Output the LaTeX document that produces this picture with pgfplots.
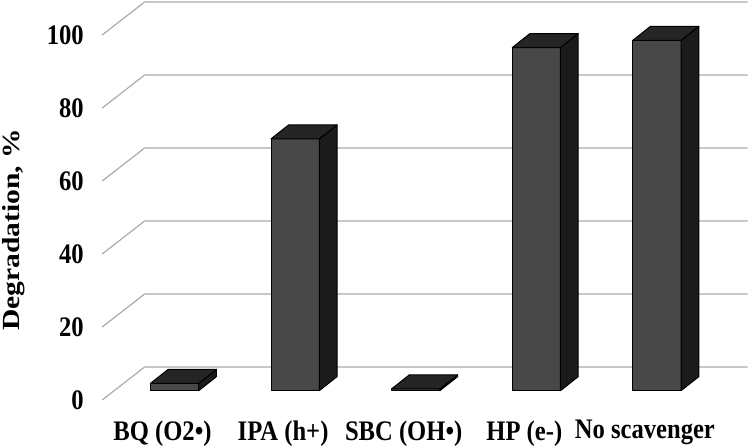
\documentclass[border=0pt]{standalone}
\usepackage{pgfplots}
\usepackage{pgfplotstable}
\pgfplotsset{compat=1.18}
\usepackage{fontspec}
\setmainfont{Liberation Serif}
\usepackage{graphicx}
\definecolor{gridc}{HTML}{ABABAB}
\definecolor{frontc}{HTML}{484848}
\definecolor{sidec}{HTML}{1B1B1B}
\definecolor{topc}{HTML}{252525}
\newcommand{\vs}[1]{\scalebox{1}[1.15]{#1}}
\pgfplotstableread{
idx v
0 2
1 69
2 0.5
3 94
4 96
}\datatable

\begin{document}
\begin{tikzpicture}
\useasboundingbox (0,0) rectangle (376pt,224pt);
\begin{axis}[
 at={(51.1pt,24pt)}, anchor=south west,
 x=60.3pt, y=1.825pt,
 xmin=-0.5, xmax=4.86, ymin=0, ymax=109.04,
 axis line style={draw=none}, major tick length=0pt, tick style={draw=none},
 clip=false,
 xtick={0,1,2,3,4},
 xticklabels={\vs{BQ (O2•)}, \vs{IPA (h+)}, \vs{SBC (OH•)}, \vs{HP (e-)}, \vs{No scavenger}},
 ytick={0,20,40,60,80,100},
 yticklabels={\vs{0},\vs{20},\vs{40},\vs{60},\vs{80},\vs{100}},
 ticklabel style={font=\fontsize{12.3pt}{14pt}\selectfont\bfseries, inner sep=0pt},
 xticklabel style={anchor=north, yshift=-10pt},
 yticklabel style={anchor=east, xshift=-9pt},
 ylabel={\scalebox{1.2}[1]{Degradation, \%}},
 every axis y label/.style={at={(axis cs:-1.231,46.6)}, rotate=90, anchor=center, font=\fontsize{12.3pt}{14pt}\selectfont\bfseries},
]
% gridlines: left wall diagonal + back wall line
\addplot[gridc, line width=0.6pt, mark=none, forget plot] coordinates {(-0.5,0) (-0.148,9.04) (4.852,9.04)};
\addplot[gridc, line width=0.6pt, mark=none, forget plot] coordinates {(-0.5,20) (-0.148,29.04) (4.852,29.04)};
\addplot[gridc, line width=0.6pt, mark=none, forget plot] coordinates {(-0.5,40) (-0.148,49.04) (4.852,49.04)};
\addplot[gridc, line width=0.6pt, mark=none, forget plot] coordinates {(-0.5,60) (-0.148,69.04) (4.852,69.04)};
\addplot[gridc, line width=0.6pt, mark=none, forget plot] coordinates {(-0.5,80) (-0.148,89.04) (4.852,89.04)};
\addplot[gridc, line width=0.6pt, mark=none, forget plot] coordinates {(-0.5,100) (-0.148,109.04) (4.852,109.04)};
% 3D bars
\pgfplotsinvokeforeach{0,...,4}{
  \pgfplotstablegetelem{#1}{v}\of\datatable
  \pgfmathsetmacro\xl{#1-0.1}
  \pgfmathsetmacro\xr{#1+0.3}
  \pgfmathsetmacro\xlb{#1-0.1+0.147}
  \pgfmathsetmacro\xrb{#1+0.3+0.147}
  \pgfmathsetmacro\yt{2.55+\pgfplotsretval}
  \pgfmathsetmacro\ytb{2.55+3.84+\pgfplotsretval}
  \addplot[fill=frontc, draw=black, line width=0.5pt, line join=round, mark=none, forget plot]
    coordinates {(\xl,2.55) (\xr,2.55) (\xr,\yt) (\xl,\yt)} --cycle;
  \addplot[fill=sidec, draw=black, line width=0.5pt, line join=round, mark=none, forget plot]
    coordinates {(\xr,2.55) (\xrb,6.39) (\xrb,\ytb) (\xr,\yt)} --cycle;
  \addplot[fill=topc, draw=black, line width=0.5pt, line join=round, mark=none, forget plot]
    coordinates {(\xl,\yt) (\xr,\yt) (\xrb,\ytb) (\xlb,\ytb)} --cycle;
}
\end{axis}
\end{tikzpicture}
\end{document}
